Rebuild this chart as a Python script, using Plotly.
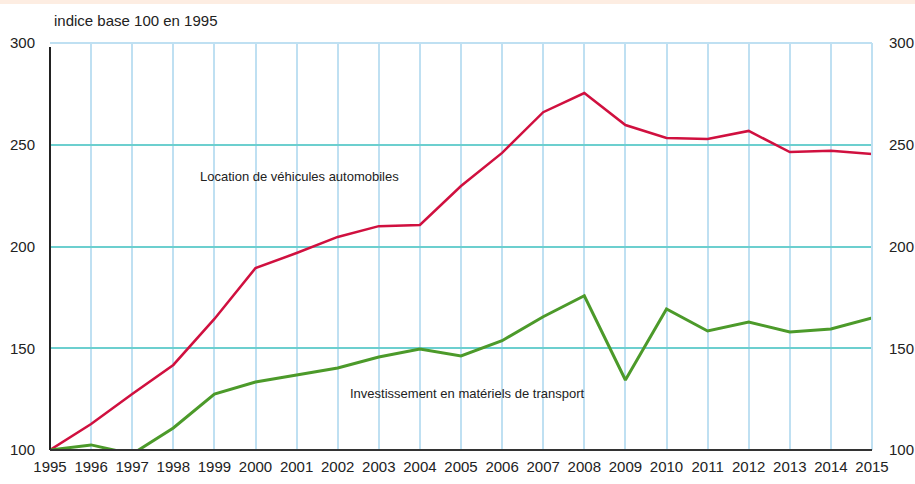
import plotly.graph_objects as go

# Donnees (indice base 100 en 1995)
annees = list(range(1995, 2016))
location = [100, 112.8, 127.5, 141.8, 164.4, 189.4, 196.8, 204.7, 210, 210.6, 229.7,
            246, 266, 275.4, 259.7, 253.3, 252.8, 256.8, 246.4, 247, 245.5]
investissement = [100, 102.5, 98, 110.8, 127.5, 133.4, 136.9, 140.3, 145.7, 149.6, 146.2,
                  153.7, 165.5, 175.8, 134.4, 169.3, 158.5, 162.9, 158, 159.5, 164.9]
y_ticks = [100, 150, 200, 250, 300]

police = "Liberation Sans, Arial, sans-serif"
bleu_clair = "#BFE0F2"
turquoise = "#6CCFCF"

fig = go.Figure()
fig.add_trace(go.Scatter(x=annees, y=location, mode="lines",
                         line=dict(color="#D0103F", width=2.5), showlegend=False))
fig.add_trace(go.Scatter(x=annees, y=investissement, mode="lines",
                         line=dict(color="#4C9A2A", width=3), showlegend=False))
# axe de droite (memes graduations)
fig.add_trace(go.Scatter(x=[annees[0]], y=[y_ticks[0]], yaxis="y2", mode="lines",
                         showlegend=False, hoverinfo="skip", line=dict(width=0)))

fig.update_layout(
    template="none",
    width=915, height=484,
    margin=dict(l=50, r=43, t=43, b=34),
    paper_bgcolor="white", plot_bgcolor="white",
    font=dict(family=police, size=15, color="#222222"),
    xaxis=dict(range=[1995, 2015], tickvals=annees, ticktext=[str(a) for a in annees],
               showgrid=True, gridcolor=bleu_clair, gridwidth=1.5, automargin=False,
               showline=False, zeroline=False, ticks="", ticklabelstandoff=6),
    yaxis=dict(range=[100, 300], tickvals=y_ticks, showgrid=True, gridcolor=turquoise,
               gridwidth=1.5, showline=False, zeroline=False, ticks="", automargin=False,
               ticklabelstandoff=14),
    yaxis2=dict(range=[100, 300], tickvals=y_ticks, overlaying="y", side="right",
                showgrid=False, showline=False, zeroline=False, ticks="", automargin=False,
                ticklabelstandoff=16),
    shapes=[
        dict(type="rect", xref="paper", yref="paper", x0=-0.1, x1=1.1, y0=1.096, y1=1.2,
             fillcolor="#FDEDE2", line=dict(width=0), layer="below"),
        dict(type="line", xref="paper", yref="paper", x0=0, x1=1, y0=1, y1=1,
             line=dict(color=bleu_clair, width=2)),
        dict(type="line", xref="paper", yref="paper", x0=1, x1=1, y0=0, y1=1,
             line=dict(color=bleu_clair, width=2)),
        dict(type="line", xref="paper", yref="paper", x0=0, x1=0, y0=0, y1=0.99,
             line=dict(color="#222222", width=2)),
        dict(type="line", xref="paper", yref="paper", x0=0, x1=1, y0=0, y1=0,
             line=dict(color="#333333", width=2)),
    ],
    annotations=[
        dict(text="indice base 100 en 1995", xref="paper", yref="paper", x=0.002, y=1.056,
             xanchor="left", yanchor="middle", showarrow=False, font=dict(size=15)),
        dict(text="Location de véhicules automobiles", x=2001.08, y=234.2,
             showarrow=False, font=dict(size=13)),
        dict(text="Investissement en matériels de transport", x=2005.15, y=128,
             showarrow=False, font=dict(size=13)),
    ],
)

# la page a une marge de 8px par defaut : on la supprime
fig.write_html("out.html", config={"displayModeBar": False},
               post_script="document.body.style.margin='0';")
